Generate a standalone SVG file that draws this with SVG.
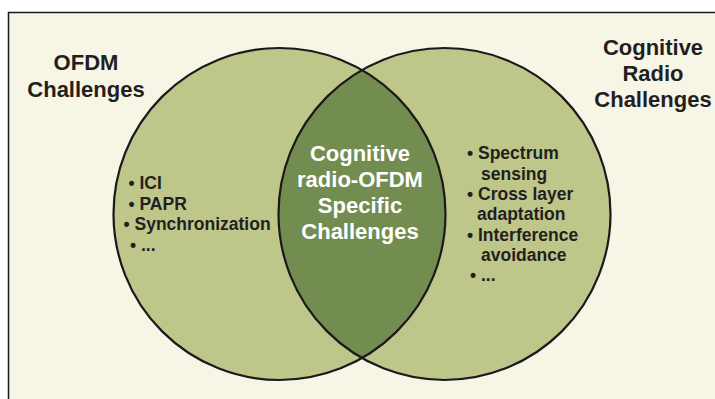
<svg xmlns="http://www.w3.org/2000/svg" width="715" height="399" viewBox="0 0 715 399">
<style>
.h{font-family:"Liberation Sans",Arial,sans-serif;font-weight:bold;font-size:22px;fill:#231f20;text-anchor:middle}
.c{font-family:"Liberation Sans",Arial,sans-serif;font-weight:bold;font-size:22px;fill:#ffffff;text-anchor:middle}
.b{font-family:"Liberation Sans",Arial,sans-serif;font-weight:bold;font-size:17.5px;fill:#231f20}
.set{fill:#bec68a}
.ring{fill:none;stroke:#1a1a1a;stroke-width:2.2}
</style>
<rect x="0" y="0" width="715" height="399" fill="#ffffff"/>
<rect x="8.5" y="12.5" width="720" height="400" fill="#f7f5e6" stroke="#1a1a1a" stroke-width="1.5"/>
<g id="ofdm">
<circle class="set" cx="279.5" cy="214" r="166"/>
</g>
<g id="cognitive-radio">
<circle class="set" cx="444.5" cy="214" r="166"/>
</g>
<g id="intersection">
<path d="M362 69.95 A166 166 0 0 1 362 358.05 A166 166 0 0 1 362 69.95 Z" fill="#738c4f"/>
</g>
<g id="outlines">
<circle class="ring" cx="279.5" cy="214" r="166"/>
<circle class="ring" cx="444.5" cy="214" r="166"/>
</g>
<g id="labels">
<text class="h" x="86" y="70">OFDM</text>
<text class="h" x="86" y="97">Challenges</text>
<text class="h" x="653" y="55">Cognitive</text>
<text class="h" x="653" y="81">Radio</text>
<text class="h" x="653" y="107">Challenges</text>
<text class="c" x="360" y="161">Cognitive</text>
<text class="c" x="360" y="187">radio-OFDM</text>
<text class="c" x="360" y="213">Specific</text>
<text class="c" x="360" y="239">Challenges</text>
<text class="b" x="128.5" y="189">• ICI</text>
<text class="b" x="128.5" y="209.5">• PAPR</text>
<text class="b" x="123.5" y="230">• Synchronization</text>
<text class="b" x="130" y="251">• ...</text>
<text class="b" x="467" y="159">• Spectrum</text>
<text class="b" x="481" y="179.5">sensing</text>
<text class="b" x="467" y="200">• Cross layer</text>
<text class="b" x="477" y="220">adaptation</text>
<text class="b" x="467" y="240.5">• Interference</text>
<text class="b" x="481" y="261">avoidance</text>
<text class="b" x="470" y="281">• ...</text>
</g>
</svg>
